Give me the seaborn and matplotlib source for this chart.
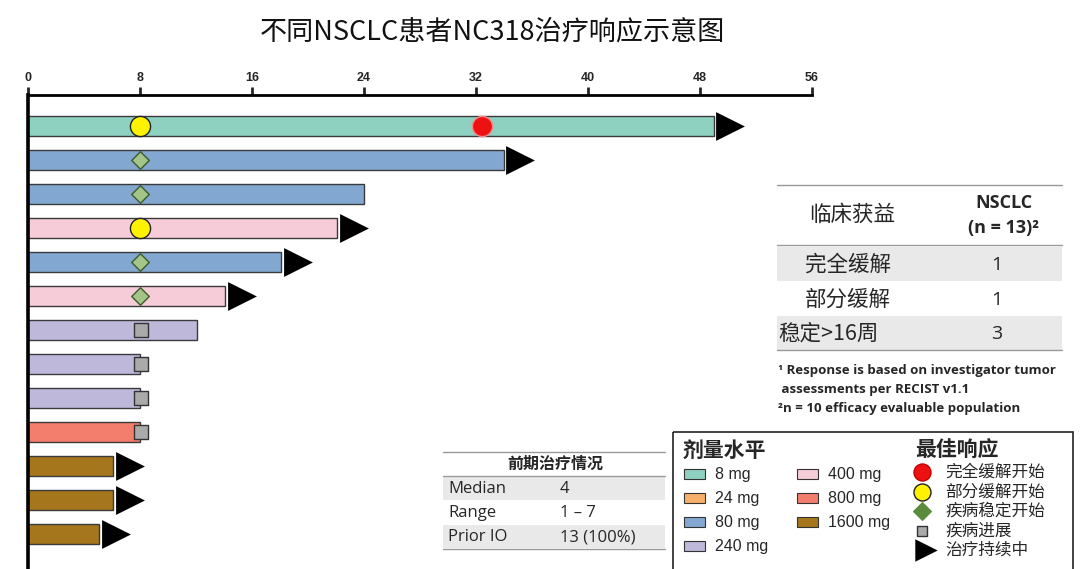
import numpy as np
import pandas as pd
import seaborn as sns
from matplotlib import pyplot as plt
from matplotlib.patches import Rectangle

# Data (weeks on treatment, one bar per patient, top to bottom)
weeks = [49, 34, 24, 22.1, 18.1, 14.1, 12.1, 8, 8, 8, 6.1, 6.1, 5.1]
doses = ['8 mg', '80 mg', '80 mg', '400 mg', '80 mg', '400 mg', '240 mg',
         '240 mg', '240 mg', '800 mg', '1600 mg', '1600 mg', '1600 mg']
ongoing = [True, True, False, True, True, True, False, False, False, False, True, True, True]

# best response markers: (patient row, week)
cr_rows = [0]
cr_weeks = [32.4]
pr_rows = [0, 3]
pr_weeks = [8, 8]
sd_rows = [1, 2, 4, 5]
sd_weeks = [8, 8, 8, 8]
pd_rows = [6, 7, 8, 9]
pd_weeks = [8.1, 8.1, 8.1, 8.1]

dose_levels = ['8 mg', '24 mg', '80 mg', '240 mg', '400 mg', '800 mg', '1600 mg']
dose_colors = ['#8ED1C1', '#F7B06B', '#82A8D2', '#BEB8DA', '#F6CCD9', '#F47E6E', '#A6761D']
x_ticks = [0, 8, 16, 24, 32, 40, 48, 56]

title = '不同NSCLC患者NC318治疗响应示意图'
benefit_rows = ['完全缓解', '部分缓解', '稳定>16周']
benefit_vals = ['1', '1', '3']
prior_labels = ['Median', 'Range', 'Prior IO']
prior_vals = ['4', '1 – 7', '13 (100%)']
resp_labels = ['完全缓解开始', '部分缓解开始', '疾病稳定开始', '疾病进展', '治疗持续中']

sns.set_style('white')
plt.rcParams['font.family'] = ['Noto Sans CJK SC', 'DejaVu Sans']

df = pd.DataFrame({'row': range(len(weeks)), 'weeks': weeks, 'dose': doses})

fig = plt.figure(figsize=(10.8, 5.69), dpi=100)
ov = fig.add_axes([0, 0, 1, 1])
ov.set_xlim(0, 1080)
ov.set_ylim(569, 0)
ov.axis('off')

ax = fig.add_axes([28 / 1080, 0, (812 - 28) / 1080, 1 - 95 / 569])
ax.patch.set_alpha(0)

sns.barplot(data=df, x='weeks', y='row', hue='dose', hue_order=dose_levels,
            palette=dict(zip(dose_levels, dose_colors)), orient='h', dodge=False,
            width=0.6, edgecolor='#3a3a3a', linewidth=1, errorbar=None,
            saturation=1, legend=False, ax=ax)

# arrows for ongoing treatment
arrow_x = [w + 1.15 for w, o in zip(weeks, ongoing) if o]
arrow_y = [i for i, o in enumerate(ongoing) if o]
sns.scatterplot(x=arrow_x, y=arrow_y, marker='>', s=430, color='black',
                edgecolor='black', linewidth=0, ax=ax, zorder=3)

sns.scatterplot(x=pd_weeks, y=pd_rows, marker='s', s=110, color='#AAAAAA',
                edgecolor='#333333', linewidth=1, ax=ax, zorder=4)
sns.scatterplot(x=sd_weeks, y=sd_rows, marker='D', s=80, color='#A4C58A',
                edgecolor='#3d5a2a', linewidth=1, ax=ax, zorder=4)
sns.scatterplot(x=pr_weeks, y=pr_rows, marker='o', s=210, color='#FFF200',
                edgecolor='#222222', linewidth=1, ax=ax, zorder=4)
sns.scatterplot(x=cr_weeks, y=cr_rows, marker='o', s=210, color='#EE1111',
                edgecolor='#F58A8A', linewidth=1, ax=ax, zorder=4)

ax.set_xlim(0, 56)
ax.set_ylim(13.03, -0.91)
ax.xaxis.tick_top()
ax.set_xticks(x_ticks)
ax.set_xticklabels([str(t) for t in x_ticks], fontweight='bold', fontsize=9,
                   family=['Liberation Sans', 'DejaVu Sans'])
ax.tick_params(axis='x', direction='out', length=6, width=2, pad=2, top=True, bottom=False)
ax.set_yticks([])
ax.set_xlabel('')
ax.set_ylabel('')
for s in ['right', 'bottom']:
    ax.spines[s].set_visible(False)
ax.spines['top'].set_linewidth(2)
ax.spines['left'].set_linewidth(2.6)
ax.spines['top'].set_color('black')
ax.spines['left'].set_color('black')

# title
ov.text(492, 32, title, ha='center', va='center', fontsize=19.5, color='#111111')

# clinical benefit table
ov.plot([777, 1062], [185, 185], color='#999999', lw=1)
ov.plot([777, 1062], [245, 245], color='#999999', lw=1)
ov.plot([777, 1062], [350, 350], color='#999999', lw=1)
ov.add_patch(Rectangle((777, 247), 285, 34, color='#E9E9E9', lw=0))
ov.add_patch(Rectangle((777, 316), 285, 34, color='#E9E9E9', lw=0))
ov.text(852, 215, '临床获益', ha='center', va='center', fontsize=15.5)
ov.text(1004, 203, 'NSCLC', ha='center', va='center', fontsize=13, fontweight='bold',
        family=['Open Sans', 'DejaVu Sans'])
ov.text(1004, 228, '(n = 13)²', ha='center', va='center', fontsize=13, fontweight='bold',
        family=['Open Sans', 'DejaVu Sans'])
for i, (lab, val) in enumerate(zip(benefit_rows, benefit_vals)):
    y = 265 + i * 34.5
    if i < 2:
        ov.text(848, y, lab, ha='center', va='center', fontsize=15.5)
    else:
        ov.text(778, y, lab, ha='left', va='center', fontsize=15.5)
    ov.text(997, y, val, ha='center', va='center', fontsize=14,
            family=['Open Sans', 'DejaVu Sans'])
foot = ['¹ Response is based on investigator tumor',
        ' assessments per RECIST v1.1',
        '²n = 10 efficacy evaluable population']
for i, t in enumerate(foot):
    ov.text(778, 370 + i * 19, t, ha='left', va='center', fontsize=9.5,
            fontweight='bold', family=['Open Sans', 'DejaVu Sans'])

# prior therapy table
ov.plot([443, 665], [452, 452], color='#999999', lw=1)
ov.plot([443, 665], [476, 476], color='#999999', lw=1)
ov.plot([443, 665], [549, 549], color='#999999', lw=1)
ov.add_patch(Rectangle((443, 477), 222, 23, color='#E9E9E9', lw=0))
ov.add_patch(Rectangle((443, 525), 222, 23, color='#E9E9E9', lw=0))
ov.text(555, 464, '前期治疗情况', ha='center', va='center', fontsize=11.5, fontweight='bold')
for i, (lab, val) in enumerate(zip(prior_labels, prior_vals)):
    y = 489 + i * 24
    ov.text(448, y, lab, ha='left', va='center', fontsize=12,
            family=['Open Sans', 'DejaVu Sans'])
    ov.text(560, y, val, ha='left', va='center', fontsize=12,
            family=['Open Sans', 'DejaVu Sans'])

# legend box
ov.add_patch(Rectangle((673, 432), 400, 145, fill=False, ec='#222222', lw=1.2))
ov.text(683, 450, '剂量水平', ha='left', va='center', fontsize=15, fontweight='bold')
ov.text(915, 450, '最佳响应', ha='left', va='center', fontsize=15, fontweight='bold')
for i, (lab, col) in enumerate(zip(dose_levels, dose_colors)):
    if i < 4:
        x, y = 684, 474 + i * 24
    else:
        x, y = 797, 474 + (i - 4) * 24
    ov.add_patch(Rectangle((x, y - 5), 21, 10, fc=col, ec='#333333', lw=0.8))
    ov.text(x + 31, y, lab, ha='left', va='center', fontsize=11.5,
            family=['Liberation Sans', 'DejaVu Sans'])

leg_y = [472, 492, 511, 531, 550]
ov.scatter([922], [leg_y[0]], marker='o', s=150, c='#EE1111', ec='#C00000', lw=1, zorder=3)
ov.scatter([922], [leg_y[1]], marker='o', s=150, c='#FFF200', ec='#222222', lw=1, zorder=3)
ov.scatter([922], [leg_y[2]], marker='D', s=80, c='#5B8C3C', ec='#5B8C3C', lw=1, zorder=3)
ov.scatter([922], [leg_y[3]], marker='s', s=60, c='#AAAAAA', ec='#333333', lw=1, zorder=3)
ov.scatter([926], [leg_y[4]], marker='>', s=260, c='black', lw=0, zorder=3)
for y, lab in zip(leg_y, resp_labels):
    ov.text(945, y, lab, ha='left', va='center', fontsize=12)

plt.savefig('out.png', dpi=100)
